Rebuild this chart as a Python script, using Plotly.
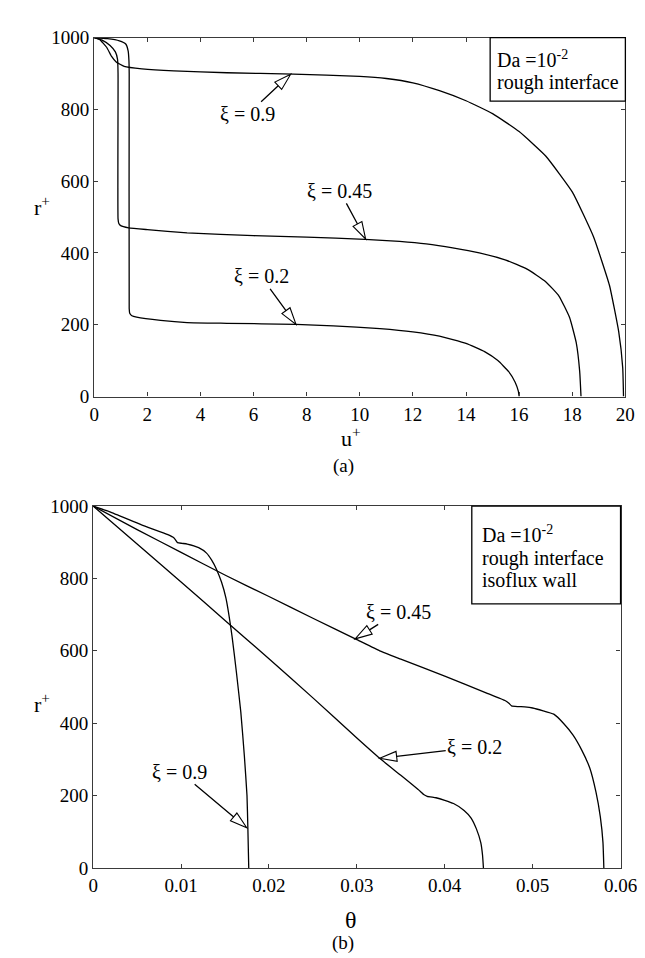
import math
import plotly.graph_objects as go

# ---------------- data: panel (a)  u+ vs r+ ----------------
u_a_02 = [0, 0.5, 0.95, 1.19, 1.28, 1.31, 1.32, 1.32, 1.34, 1.42, 1.6, 2.5, 3.5, 5, 7.6, 9, 10.76, 12, 13, 14, 14.7, 15.2, 15.6, 15.85, 15.97, 16.0]
r_a_02 = [1000, 997, 991, 982, 963, 936, 900, 245, 232, 225, 221, 212, 206, 204, 201, 197, 189, 180, 168, 148, 125, 100, 70, 40, 15, 0]

u_a_045 = [0, 0.3, 0.6, 0.8, 0.88, 0.9, 0.9, 0.93, 1.0, 1.3, 2, 3.5, 6, 8, 10.2, 11.5, 12.5, 13.5, 14.5, 15.5, 16.3, 17, 17.5, 17.9, 18.15, 18.28, 18.33]
r_a_045 = [1000, 993, 978, 960, 940, 900, 495, 482, 476, 470, 465, 456, 448, 444, 438, 432, 425, 414, 400, 380, 355, 320, 280, 220, 150, 70, 0]

u_a_09 = [0, 0.2, 0.47, 0.65, 0.83, 1.13, 1.8, 3, 5, 7.5, 10, 11, 12, 13, 14, 15, 16, 17, 18, 18.8, 19.4, 19.75, 19.9, 19.93]
r_a_09 = [1000, 995, 973, 948, 932, 920, 913, 907, 902, 898, 892, 886, 874, 852, 824, 788, 738, 670, 570, 445, 310, 180, 80, 0]

# ---------------- data: panel (b)  theta vs r+ ----------------
th_b_02 = [0, 0.005, 0.010, 0.0151, 0.020, 0.025, 0.030, 0.0326, 0.035, 0.0372, 0.0376, 0.0380, 0.039, 0.040, 0.041, 0.0422, 0.043, 0.0436, 0.0441, 0.0443, 0.0444]
r_b_02 = [1000, 895, 790, 682, 578, 470, 359, 303, 256, 212, 203, 198, 194, 187, 178, 159, 138, 108, 70, 35, 0]

th_b_045 = [0, 0.005, 0.010, 0.0151, 0.020, 0.025, 0.030, 0.0326, 0.035, 0.040, 0.0447, 0.0469, 0.0473, 0.0476, 0.0483, 0.0491, 0.050, 0.0524, 0.0535, 0.0546, 0.0556, 0.0565, 0.0572, 0.0577, 0.0580, 0.0581]
r_b_045 = [1000, 935, 872, 808, 750, 690, 631, 600, 577, 530, 484, 462, 455, 448, 446, 445, 442, 425, 400, 367, 325, 276, 210, 141, 70, 0]

th_b_09 = [0, 0.0019, 0.0055, 0.0085, 0.0092, 0.0096, 0.0101, 0.0107, 0.0120, 0.0129, 0.0135, 0.0140, 0.0146, 0.0151, 0.0158, 0.0163, 0.0168, 0.0172, 0.0175, 0.0176, 0.0177]
r_b_09 = [1000, 984, 948, 921, 912, 899, 897, 895, 885, 870, 850, 827, 790, 746, 640, 540, 430, 310, 200, 110, 0]

x_ticks_a = [0, 2, 4, 6, 8, 10, 12, 14, 16, 18, 20]
x_ticks_b = [0, 0.01, 0.02, 0.03, 0.04, 0.05, 0.06]
x_ticktext_b = ["0", "0.01", "0.02", "0.03", "0.04", "0.05", "0.06"]
y_ticks = [0, 200, 400, 600, 800, 1000]

# curve labels: (axis, text, tip_x, tip_y, text offset dx, dy in px)
labels = [
    ("a", "ξ = 0.9", 7.4, 898, -43, 40),
    ("a", "ξ = 0.45", 10.22, 439, -26, -48),
    ("a", "ξ = 0.2", 7.6, 201, -35, -48),
    ("b", "ξ = 0.45", 0.0298, 633, 43, -27),
    ("b", "ξ = 0.2", 0.0326, 303, 95, -11),
    ("b", "ξ = 0.9", 0.01747, 111, -67, -56),
]

W, H = 645, 958
FONT = "'Liberation Serif', 'Times New Roman', serif"
LINE = dict(color="black", width=1.3, shape="spline", smoothing=0.4)

fig = go.Figure()
for u, r in [(u_a_02, r_a_02), (u_a_045, r_a_045), (u_a_09, r_a_09)]:
    fig.add_trace(go.Scatter(x=u, y=r, mode="lines", line=LINE, xaxis="x", yaxis="y", showlegend=False, hoverinfo="skip"))
for t, r in [(th_b_02, r_b_02), (th_b_045, r_b_045), (th_b_09, r_b_09)]:
    fig.add_trace(go.Scatter(x=t, y=r, mode="lines", line=LINE, xaxis="x2", yaxis="y2", showlegend=False, hoverinfo="skip"))

axcommon = dict(showline=True, linecolor="#3a3a3a", linewidth=1.4, mirror="ticks",
                ticks="inside", ticklen=4, tickwidth=1.2, tickcolor="#3a3a3a",
                showgrid=False, zeroline=False,
                tickfont=dict(family=FONT, size=19, color="black"))

fig.update_layout(
    width=W, height=H, margin=dict(l=0, r=0, t=0, b=0),
    paper_bgcolor="white", plot_bgcolor="white",
    font=dict(family=FONT, size=19, color="black"),
    xaxis=dict(domain=[84 / W, 634 / W], range=[0, 20], tickvals=x_ticks_a, anchor="y", **axcommon),
    yaxis=dict(domain=[1 - 387 / H, 1 - 20 / H], range=[0, 1000], tickvals=y_ticks, anchor="x", **axcommon),
    xaxis2=dict(domain=[83 / W, 629 / W], range=[0, 0.06], tickvals=x_ticks_b, ticktext=x_ticktext_b, anchor="y2", **axcommon),
    yaxis2=dict(domain=[1 - 869 / H, 1 - 499 / H], range=[0, 1000], tickvals=y_ticks, anchor="x2", **axcommon),
)

annotations = []
shapes = []
L, WT = 17, 10
for ax, text, tx, ty, dx, dy in labels:
    xr = "x" if ax == "a" else "x2"
    yr = "y" if ax == "a" else "y2"
    annotations.append(dict(x=tx, y=ty, xref=xr, yref=yr, text=text, showarrow=True,
                            arrowhead=0, arrowwidth=1.3, arrowcolor="black", ax=dx, ay=dy,
                            standoff=L, font=dict(family=FONT, size=20, color="black")))
    n = math.hypot(dx, dy)
    ux, uy = dx / n, dy / n          # screen direction tip -> text
    bx, by = ux * L, uy * L
    px, py = -uy, ux                 # perpendicular (screen)
    c1 = (bx + px * WT / 2, by + py * WT / 2)
    c2 = (bx - px * WT / 2, by - py * WT / 2)
    path = "M 0,0 L {:.2f},{:.2f} L {:.2f},{:.2f} Z".format(c1[0], -c1[1], c2[0], -c2[1])
    shapes.append(dict(type="path", xref=xr, yref=yr, xsizemode="pixel", ysizemode="pixel",
                       xanchor=tx, yanchor=ty, path=path, fillcolor="white",
                       line=dict(color="black", width=1.1)))

# legend-like boxes
shapes.append(dict(type="rect", xref="x domain", yref="y domain", x0=(494 - 84) / 550, x1=1,
                   y0=1 - (85 - 20) / 367, y1=1, line=dict(color="black", width=1.3), fillcolor="white", layer="above"))
shapes.append(dict(type="rect", xref="x2 domain", yref="y2 domain", x0=(475 - 83) / 546, x1=1,
                   y0=1 - (599 - 499) / 370, y1=1, line=dict(color="black", width=1.3), fillcolor="white", layer="above"))

def ptext(text, x, y, size, anchor="left"):
    annotations.append(dict(x=x / W, y=1 - y / H, xref="paper", yref="paper", text=text, showarrow=False,
                            xanchor=anchor, yanchor="middle", font=dict(family=FONT, size=size, color="black")))

ptext("Da =10<sup>-2</sup>", 499, 42, 20)
ptext("rough interface", 499, 66, 20)
ptext("Da =10<sup>-2</sup>", 484, 528, 20)
ptext("rough interface", 484, 553, 20)
ptext("isoflux wall", 484, 575, 20)

ptext("r<sup>+</sup>", 30, 192, 22, "center")
ptext("r<sup>+</sup>", 30, 700, 22, "center")
ptext("u<sup>+</sup>", 350, 428, 22, "center")
ptext("θ", 350, 922, 24, "center")
ptext("(a)", 342, 458, 19, "center")
ptext("(b)", 342, 946, 19, "center")

fig.update_layout(annotations=annotations, shapes=shapes)
fig.write_html("out.html")
